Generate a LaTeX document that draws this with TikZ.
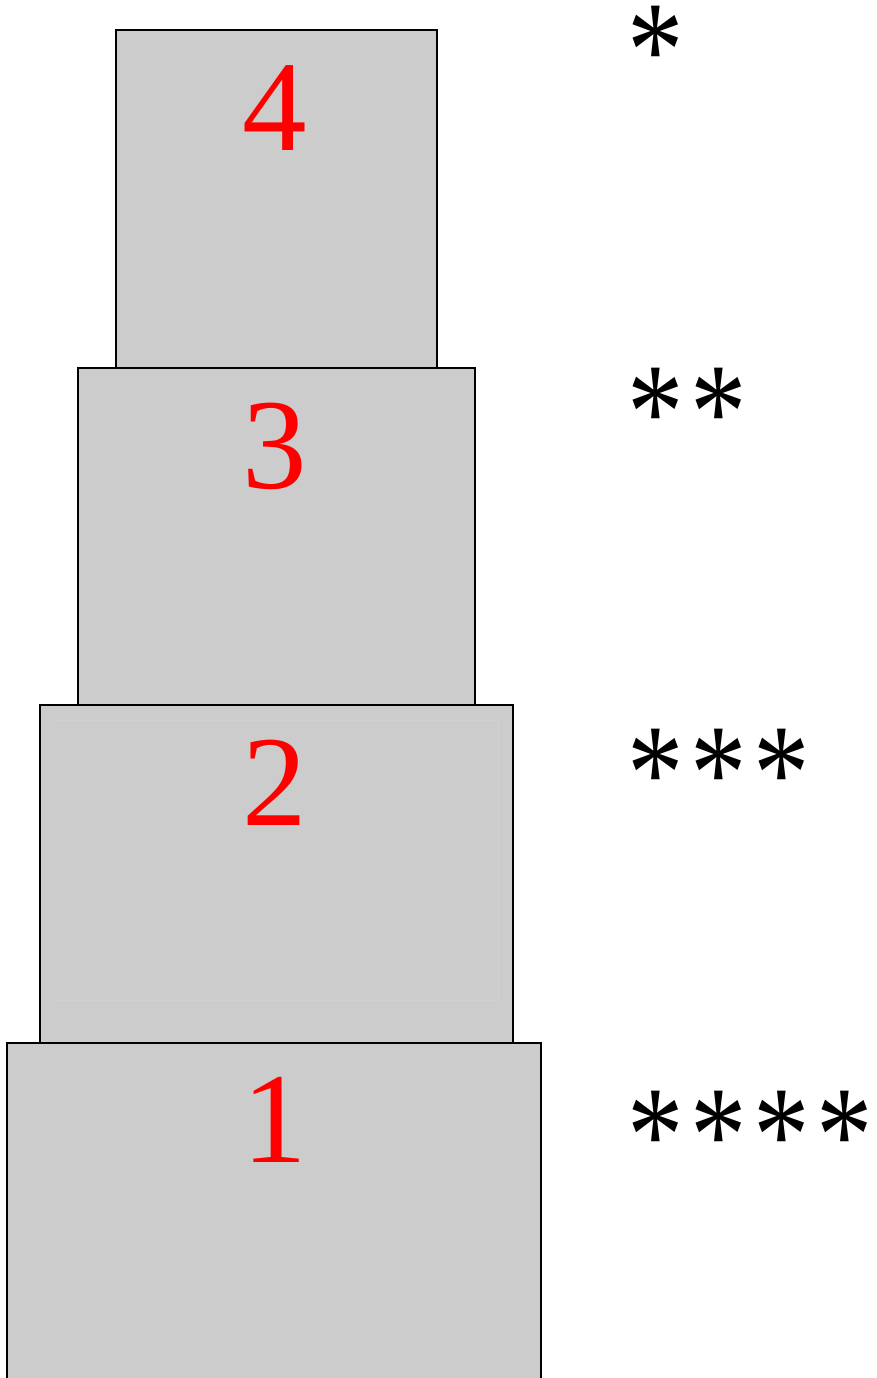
\documentclass[tikz,border=0pt]{standalone}
\usepackage{fontspec}
\setmainfont{Liberation Serif}
\begin{document}
\begin{tikzpicture}[x=1pt,y=-1pt,
  tier/.style={draw=black,line width=2pt,fill=gray!40!white},
  num/.style={text=red,font=\fontsize{129}{129}\selectfont,anchor=base,inner sep=0pt},
  starrow/.style={anchor=base west,inner sep=0pt,font=\fontsize{120}{120}\selectfont}]
\useasboundingbox (0,0) rectangle (877,1378);
\fill[white] (0,0) rectangle (877,1378);
\path[tier] (7,1043) rectangle (541,1390);
\path[tier] (40,705) rectangle (513,1043);
\draw[gray!37!white,line width=0.6pt] (55,720) -- (498,720) -- (498,1000) -- (55,1000);
\path[tier] (78,368) rectangle (475,705);
\path[tier] (116,30) rectangle (437,368);
\node[num] (n4) at (275,150) {4};
\node[num] (n3) at (275,488) {3};
\node[num] (n2) at (275,825) {2};
\node[num] (n1) at (275,1162) {1};
\newcommand\sstar{\scalebox{0.94}[1.15]{*}}
\newcommand\sgap{\kern 6.6pt}
\node[starrow] (s4) at (627.5,96.6) {\sstar};
\node[starrow] (s3) at (627.5,458) {\sstar\sgap\sstar};
\node[starrow] (s2) at (627.5,819.6) {\sstar\sgap\sstar\sgap\sstar};
\node[starrow] (s1) at (627.5,1181.6) {\sstar\sgap\sstar\sgap\sstar\sgap\sstar};
\end{tikzpicture}
\end{document}
